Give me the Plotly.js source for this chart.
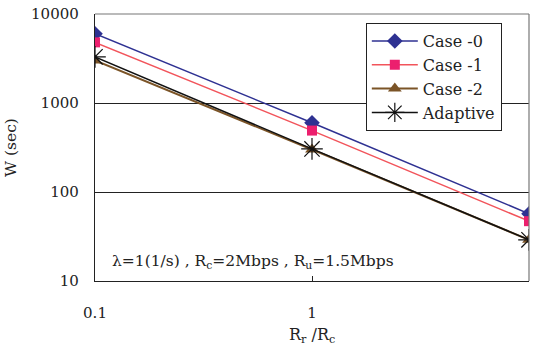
<!DOCTYPE html>
<html><head><meta charset="utf-8">
<script src="https://cdn.plot.ly/plotly-3.0.1.min.js"></script>
<style>html,body{margin:0;padding:0;background:#fff}#c{width:537px;height:348px}</style>
</head><body><div id="c"></div>
<script>
const ratio = [0.1, 1, 10];
const case0 = [6000, 600, 57];
const case1 = [4800, 490, 47];
const case2 = [3000, 300, 29];
const adaptive = [3300, 305, 29];
const names = ["Case -0", "Case -1", "Case -2", "Adaptive"];
const yTicks = [10, 100, 1000, 10000];
const yTickText = ["10", "100", "1000", "10000"];
const xTicks = [0.1, 1, 10];
const xTickText = ["0.1", "1", "10"];

const F = "DejaVu Serif";
const traces = [
  {x: ratio, y: case0, name: names[0], mode: "lines+markers",
   line: {color: "#2e3192", width: 1.5}, marker: {symbol: "diamond", size: 12, color: "#2e3192"}},
  {x: ratio, y: case1, name: names[1], mode: "lines+markers",
   line: {color: "#f2545b", width: 1.5}, marker: {symbol: "square", size: 10, color: "#ec1f6e"}},
  {x: ratio, y: case2, name: names[2], mode: "lines+markers",
   line: {color: "#7b5427", width: 2}, marker: {symbol: "triangle-up", size: 12, color: "#7b5427"}},
  {x: ratio, y: adaptive, name: names[3], mode: "lines+markers",
   line: {color: "#111", width: 1.5}, marker: {symbol: "asterisk-open", size: 18, line: {color: "#111", width: 1.2}}}
];
const layout = {
  width: 537, height: 348,
  margin: {l: 95, r: 8, t: 14, b: 67},
  paper_bgcolor: "#fff", plot_bgcolor: "#fff",
  font: {family: F, size: 15, color: "#222"},
  showlegend: true,
  legend: {x: 0.624, y: 0.966, xanchor: "left", yanchor: "top",
           bgcolor: "#fff", bordercolor: "#222", borderwidth: 1,
           font: {family: F, size: 16, color: "#222"}, tracegroupgap: 0,
           itemwidth: 46},
  xaxis: {type: "log", range: [-1, 1], tickvals: xTicks, ticktext: xTickText,
          ticks: "inside", ticklen: 5, tickcolor: "#222", showgrid: false, zeroline: false,
          showline: true, linecolor: "#222", linewidth: 1.2, mirror: false,
          ticklabelstandoff: 18, tickfont: {family: F, size: 15, color: "#222"}},
  yaxis: {type: "log", range: [1, 4], tickvals: yTicks, ticktext: yTickText,
          ticks: "", showgrid: true, gridcolor: "#222", gridwidth: 1, zeroline: false,
          showline: true, linecolor: "#222", linewidth: 1.2,
          ticklabelstandoff: 12, tickfont: {family: F, size: 15, color: "#222"},
          title: {text: "W (sec)", font: {family: F, size: 15.5, color: "#222"}, standoff: 10}},
  shapes: [
    {type: "line", xref: "paper", yref: "paper", x0: 0, x1: 1, y0: 1, y1: 1, line: {color: "#777", width: 1.2}},
    {type: "line", xref: "paper", yref: "paper", x0: 1, x1: 1, y0: 0, y1: 1, line: {color: "#777", width: 1.2}}
  ],
  annotations: [
    {xref: "paper", yref: "paper", x: 0.035, y: 0.07, xanchor: "left", yanchor: "middle", showarrow: false,
     text: "λ=1(1/s) , R<sub>c</sub>=2Mbps , R<sub>u</sub>=1.5Mbps",
     font: {family: F, size: 15.5, color: "#222"}},
    {xref: "paper", yref: "paper", x: 0.5, y: -0.205, xanchor: "center", yanchor: "middle", showarrow: false,
     text: "R<sub>r</sub> /R<sub>c</sub>",
     font: {family: F, size: 16, color: "#222"}}
  ]
};
Plotly.newPlot("c", traces, layout, {displayModeBar: false, staticPlot: true});
</script></body></html>
